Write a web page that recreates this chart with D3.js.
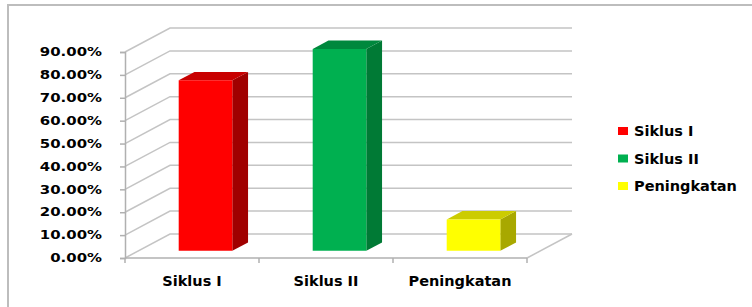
<!DOCTYPE html>
<meta charset="utf-8">
<script src="https://d3js.org/d3.v7.min.js"></script>
<style>
body { margin: 0; background: #fff; }
svg { display: block; }
text { font-family: 'DejaVu Sans', sans-serif; font-weight: bold; fill: #000; }
.grid { stroke: #c4c4c4; stroke-width: 1.5; fill: none; }
.axis line, .axis path { stroke: #b0b0b0; stroke-width: 1.5; }
</style>
<svg width="752" height="307"></svg>
<script>
const categories = ['Siklus I', 'Siklus II', 'Peningkatan'];
const values = [0.745, 0.882, 0.137];
const yTicks = [0, 0.1, 0.2, 0.3, 0.4, 0.5, 0.6, 0.7, 0.8, 0.9];
const colors = [
  { front: '#ff0000', top: '#c80000', side: '#a00000' },
  { front: '#00b050', top: '#00883d', side: '#007a35' },
  { front: '#ffff00', top: '#cccc00', side: '#a8a800' }
];

const svg = d3.select('svg');

// chart frame (only top/left edges visible)
svg.append('rect')
  .attr('x', 8).attr('y', 5)
  .attr('width', 800).attr('height', 400)
  .attr('fill', 'none')
  .attr('stroke', '#bdbdbd')
  .attr('stroke-width', 2);

const x = d3.scaleBand()
  .domain(categories)
  .range([125, 527])
  .paddingInner(0.6)
  .paddingOuter(0.3);

const y = d3.scaleLinear()
  .domain([0, 0.9])
  .range([258, 52]);

// depth of the 3d box
const depth = { dx: 45, dy: -24 };
const proj = (px, py, t) => [px + t * depth.dx, py + t * depth.dy];

const x0 = x.range()[0], x1 = x.range()[1];
const line = d3.line();

// left wall + back wall gridlines
const walls = svg.append('g');
yTicks.forEach(v => {
  walls.append('path').attr('class', 'grid')
    .attr('d', line([proj(x0, y(v), 0), proj(x0, y(v), 1), proj(x1, y(v), 1)]));
});
// floor right edge
walls.append('path').attr('class', 'grid')
  .attr('d', line([proj(x1, y(0), 0), proj(x1, y(0), 1)]));

// axes
const yAxis = svg.append('g')
  .attr('class', 'axis')
  .attr('transform', `translate(${x0},0)`)
  .call(d3.axisLeft(y).tickValues(yTicks).tickSize(5).tickPadding(4)
    .tickFormat(d => (d * 100).toFixed(2) + '%'));
yAxis.selectAll('text')
  .attr('font-size', 11.5)
  .attr('x', -23 / 1.3)
  .attr('transform', 'scale(1.3,1)');

const bounds = d3.range(categories.length + 1).map(i => x0 + i * x.step());
const xAxis = svg.append('g').attr('class', 'axis');
xAxis.append('line')
  .attr('x1', x0).attr('x2', x1)
  .attr('y1', y(0)).attr('y2', y(0));
xAxis.selectAll('.tk').data(bounds).join('line')
  .attr('class', 'tk')
  .attr('x1', d => d).attr('x2', d => d)
  .attr('y1', y(0)).attr('y2', y(0) + 5);
xAxis.selectAll('.lbl').data(categories).join('text')
  .attr('class', 'lbl')
  .attr('x', d => x(d) + x.bandwidth() / 2)
  .attr('y', 286)
  .attr('text-anchor', 'middle')
  .attr('font-size', 14.5)
  .text(d => d);

// bars
const t0 = 0.3, t1 = 0.65;
const bars = svg.append('g');
categories.forEach((c, i) => {
  const l = x(c), r = x(c) + x.bandwidth();
  const b = y(0), tp = y(values[i]);
  const col = colors[i];
  bars.append('path').attr('fill', col.side)
    .attr('d', line([proj(r, b, t0), proj(r, b, t1), proj(r, tp, t1), proj(r, tp, t0)]) + 'Z');
  bars.append('path').attr('fill', col.top)
    .attr('d', line([proj(l, tp, t0), proj(l, tp, t1), proj(r, tp, t1), proj(r, tp, t0)]) + 'Z');
  bars.append('path').attr('fill', col.front)
    .attr('d', line([proj(l, b, t0), proj(l, tp, t0), proj(r, tp, t0), proj(r, b, t0)]) + 'Z');
});

// legend
const legend = svg.append('g').attr('transform', 'translate(618,131)');
const items = legend.selectAll('g').data(categories).join('g')
  .attr('transform', (d, i) => `translate(0,${i * 27.5})`);
items.append('rect')
  .attr('x', 0).attr('y', -4)
  .attr('width', 10).attr('height', 8)
  .attr('fill', (d, i) => colors[i].front);
items.append('text')
  .attr('x', 16).attr('y', 5)
  .attr('font-size', 14.5)
  .text(d => d);
</script>
